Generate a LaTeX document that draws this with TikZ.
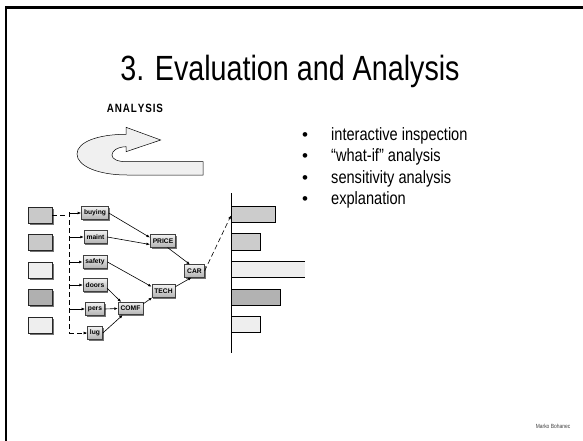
\documentclass[tikz,border=0pt]{standalone}
\usepackage{fontspec}
\setmainfont{Liberation Sans}
\newfontfamily\narrowfont[FakeStretch=0.82]{Liberation Sans}
\usetikzlibrary{arrows.meta,shadows}

\begin{document}
\begin{tikzpicture}[x=1pt,y=-1pt,
  attrnode/.style={draw=black!75, line width=0.6pt,
    top color=gray!12, bottom color=gray!60,
    font=\fontsize{6.7}{7}\selectfont\bfseries,
    inner xsep=2.5pt, inner ysep=0pt, minimum height=12.5pt,
    drop shadow={shadow xshift=1.3pt, shadow yshift=-1.3pt, fill=black!55, opacity=1}},
  inbox/.style={draw=black!85, line width=0.6pt,
    minimum width=24pt, minimum height=16pt, inner sep=0pt,
    drop shadow={shadow xshift=1.5pt, shadow yshift=-1.5pt, fill=black!55, opacity=1}},
  link/.style={line width=0.6pt, -{Latex[length=3.5pt,width=2.8pt]}},
  buslink/.style={line width=0.6pt, dash pattern=on 5pt off 3pt},
  bar/.style={draw=black, line width=0.7pt},
  bullet/.style={anchor=base west, font=\narrowfont\fontsize{17.8}{20}\selectfont, inner sep=0pt},
]
\useasboundingbox (0,0) rectangle (583,441);

% slide frame (top and left edges)
\draw[line width=2.6pt, line cap=rect] (6,441) -- (6,7.5) -- (583,7.5);

% title
\node[anchor=base, font=\narrowfont\fontsize{35}{40}\selectfont, inner sep=0pt]
  (title) at (290,81) {3. Evaluation and Analysis};

% analysis label and U-turn arrow
\node[font=\narrowfont\fontsize{12}{13}\selectfont\bfseries, inner sep=0pt] (analysis) at (135,108)
  {A\kern0.9pt N\kern0.9pt A\kern0.9pt L\kern0.9pt Y\kern0.9pt S\kern0.9pt I\kern0.9pt S};
\draw[fill=gray!12, line width=0.5pt, line join=miter]
  (203,175) -- (127,175)
  .. controls (98,175) and (77,166) .. (77,154)
  .. controls (77,142) and (98,134.3) .. (126,134.3)
  -- (126,127.3) -- (160.7,140) -- (126,151.7) -- (126,146.7)
  .. controls (117,147) and (112,151) .. (112,155)
  .. controls (112,159) and (117,161.7) .. (127,161.7)
  -- (203,161.7) -- cycle;

% input value boxes
\node[inbox, fill=gray!42] (in1) at (40,215) {};
\node[inbox, fill=gray!42] (in2) at (40,242) {};
\node[inbox, fill=gray!13] (in3) at (40,270) {};
\node[inbox, fill=gray!62] (in4) at (40,297.5) {};
\node[inbox, fill=gray!13] (in5) at (40,325) {};

% attribute tree
\node[attrnode] (buying) at (95,213) {buying};
\node[attrnode] (maint)  at (95.5,237) {maint};
\node[attrnode] (safety) at (95,262) {safety};
\node[attrnode] (doors)  at (95,285) {doors};
\node[attrnode] (pers)   at (95,309) {pers};
\node[attrnode] (lug)    at (95,333) {lug};
\node[attrnode] (PRICE)  at (163,241) {PRICE};
\node[attrnode] (COMF)   at (130.5,308.5) {COMF};
\node[attrnode] (TECH)   at (163.5,291) {TECH};
\node[attrnode] (CAR)    at (194.5,271) {CAR};

% distribution bus from the inputs to the basic attributes
\coordinate (bustop) at (69,212);
\coordinate (bus1) at (69,213);
\coordinate (bus2) at (69,237);
\coordinate (bus3) at (69,262);
\coordinate (bus4) at (69,285);
\coordinate (bus5) at (69,309);
\coordinate (bus6) at (69,333);
\draw[buslink] (in1.east) -- (66,215);
\draw[buslink] (bustop) -- (bus6);
\draw[buslink] (bus6) -- (86,333);
\draw[link] (86,333) -- (lug.west);
\draw[link] (bus1) -- (buying.west);
\draw[link] (bus2) -- (maint.west);
\draw[link] (bus3) -- (safety.west);
\draw[link] (bus4) -- (doors.west);
\draw[link] (bus5) -- (pers.west);

% aggregation links
\draw[link] (buying.east) -- (PRICE.165);
\draw[link] (maint.east) -- (PRICE.195);
\draw[link] (safety.east) -- (TECH.160);
\draw[link] (doors.-15) -- (COMF.145);
\draw[link] (pers.east) -- (COMF.west);
\draw[link] (lug.east) -- (COMF.-140);
\draw[link] (COMF.20) -- (TECH.-150);
\draw[link] (PRICE.-55) -- (CAR.125);
\draw[link] (TECH.20) -- (CAR.-115);

% result chart
\draw[bar, fill=gray!40] (231,206) rectangle (275.5,222.5);
\draw[bar, fill=gray!40] (231,233.5) rectangle (260,250);
\fill[gray!13] (231,261) rectangle (305,277.5);
\draw[bar] (305,261) -- (231,261) (231,277.5) -- (305,277.5);
\draw[bar, fill=gray!60] (231,289) rectangle (280,305);
\draw[bar, fill=gray!13] (231,316.5) rectangle (260,332.5);
\draw[line width=0.8pt] (231,193) -- (231,353);
\coordinate (chartin) at (231,215.5);
\draw[link, dash pattern=on 5pt off 3pt] (CAR.east) -- (chartin);

% bullet list
\node[bullet] (b1) at (331,140) {interactive inspection};
\node[bullet] (b2) at (331,161.5) {“what-if” analysis};
\node[bullet] (b3) at (331,183) {sensitivity analysis};
\node[bullet] (b4) at (331,204) {explanation};
\foreach \y in {140,161.5,183,204}
  \node[anchor=base, font=\fontsize{17}{20}\selectfont, inner sep=0pt] at (305,\y) {•};

% author
\node[font=\narrowfont\fontsize{6}{7}\selectfont, inner sep=0pt, text=black!75] (author) at (553,426) {Marko Bohanec};
\end{tikzpicture}
\end{document}
